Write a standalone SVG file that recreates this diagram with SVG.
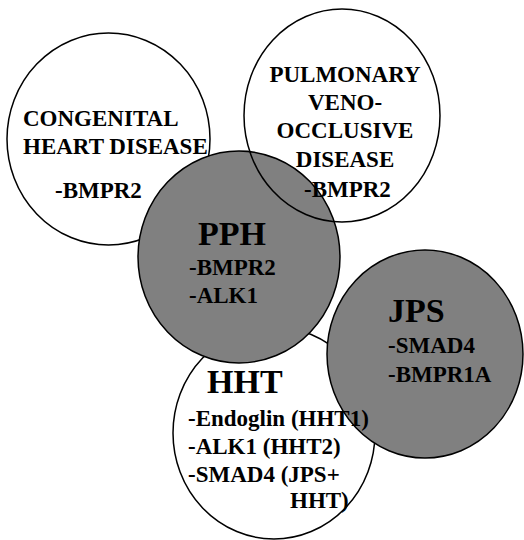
<svg xmlns="http://www.w3.org/2000/svg" width="524" height="540" viewBox="0 0 524 540">
<style>
.c{stroke:#000;stroke-width:1.5}
.w{fill:#fff}
.g{fill:#808080}
.n{fill:none}
text{font-family:"Liberation Serif","Times New Roman",serif;font-weight:bold;fill:#000}
.t{font-size:23px}
.h{font-size:34px}
.m{text-anchor:middle}
</style>
<rect width="524" height="540" fill="#fff"/>
<g id="shapes">
<ellipse id="chd-shape" class="c w" cx="108.5" cy="139" rx="101.5" ry="106"/>
<ellipse id="hht-shape" class="c w" cx="274" cy="433" rx="101" ry="106"/>
<ellipse id="pph-shape" class="c g" cx="239" cy="257" rx="101" ry="106"/>
<ellipse id="jps-shape" class="c g" cx="425" cy="354" rx="98" ry="104"/>
<ellipse id="pvod-shape" class="c n" cx="342" cy="115.5" rx="98" ry="106.5"/>
</g>
<g id="connectors"></g>
<g id="chd">
<text class="t" x="23" y="126">CONGENITAL</text>
<text class="t" x="23" y="154">HEART DISEASE</text>
<text class="t" x="55" y="198">-BMPR2</text>
</g>
<g id="pvod">
<text class="t m" x="345" y="82">PULMONARY</text>
<text class="t m" x="345" y="110">VENO-</text>
<text class="t m" x="345" y="138">OCCLUSIVE</text>
<text class="t m" x="345" y="167">DISEASE</text>
<text class="t" x="304" y="197">-BMPR2</text>
</g>
<g id="pph">
<text class="h" x="198" y="245">PPH</text>
<text class="t" x="189" y="275">-BMPR2</text>
<text class="t" x="189" y="303">-ALK1</text>
</g>
<g id="jps">
<text class="h" x="388" y="322">JPS</text>
<text class="t" x="388" y="353">-SMAD4</text>
<text class="t" x="388" y="382">-BMPR1A</text>
</g>
<g id="hht">
<text class="h" x="207" y="393">HHT</text>
<text class="t" x="188" y="426">-Endoglin (HHT1)</text>
<text class="t" x="188" y="454">-ALK1 (HHT2)</text>
<text class="t" x="188" y="482">-SMAD4 (JPS+</text>
<text class="t" x="290" y="508">HHT)</text>
</g>
</svg>
